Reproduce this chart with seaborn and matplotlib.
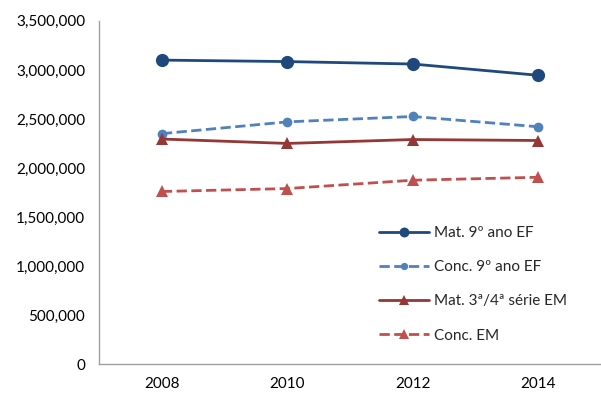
import matplotlib
matplotlib.use("Agg")
import matplotlib.pyplot as plt
import seaborn as sns
import pandas as pd
from matplotlib.ticker import FuncFormatter

years = ["2008", "2010", "2012", "2014"]
mat_9ef = [3100000, 3085000, 3060000, 2945000]
conc_9ef = [2350000, 2470000, 2525000, 2420000]
mat_em = [2295000, 2250000, 2290000, 2280000]
conc_em = [1760000, 1790000, 1875000, 1905000]
series_names = ["Mat. 9º ano EF", "Conc. 9º ano EF", "Mat. 3ª/4ª série EM", "Conc. EM"]

sns.set_theme(style="white")
plt.rcParams['font.family'] = ['Lato', 'DejaVu Sans']

rows = []
for name, vals in zip(series_names, [mat_9ef, conc_9ef, mat_em, conc_em]):
    for i, (y, v) in enumerate(zip(years, vals)):
        rows.append({"pos": i, "year": y, "value": v, "serie": name})
df = pd.DataFrame(rows)

colors = {series_names[0]: "#1F497D", series_names[1]: "#4F81BD",
          series_names[2]: "#953735", series_names[3]: "#C0504D"}
styles = {series_names[0]: ("-", "o", 9.5), series_names[1]: ("--", "o", 7),
          series_names[2]: ("-", "^", 9), series_names[3]: ("--", "^", 9)}

fig, ax = plt.subplots(figsize=(6.01, 3.94), dpi=100)
fig.subplots_adjust(left=0.165, right=1.0, top=0.947, bottom=0.076)

for name in series_names:
    ls, mk, ms = styles[name]
    sub = df[df.serie == name]
    sns.lineplot(data=sub, x="pos", y="value", ax=ax, color=colors[name],
                 linestyle=ls, marker=mk, markersize=ms, linewidth=2,
                 markeredgewidth=0, label=name)

ax.set_xlim(-0.5, 3.5)
ax.set_ylim(0, 3500000)
ax.set_xticks(range(len(years)))
ax.set_xticklabels(years)
ax.set_yticks(range(0, 3500001, 500000))
ax.yaxis.set_major_formatter(FuncFormatter(lambda v, p: f"{int(v):,}"))
ax.set_xlabel("")
ax.set_ylabel("")
ax.tick_params(axis="both", length=0, labelsize=11, colors="#000000")
ax.tick_params(axis="x", pad=9)
ax.tick_params(axis="y", pad=10)
for s in ["top", "right"]:
    ax.spines[s].set_visible(False)
for s in ["left", "bottom"]:
    ax.spines[s].set_color("#A0A0A0")
    ax.spines[s].set_linewidth(1)

leg = ax.legend(loc="lower left", bbox_to_anchor=(0.545, 0.045), frameon=False,
                fontsize=11, handlelength=3.3, labelspacing=1.32, markerscale=0.75,
                handletextpad=0.3, borderaxespad=0)

fig.savefig("out.png", dpi=100)
